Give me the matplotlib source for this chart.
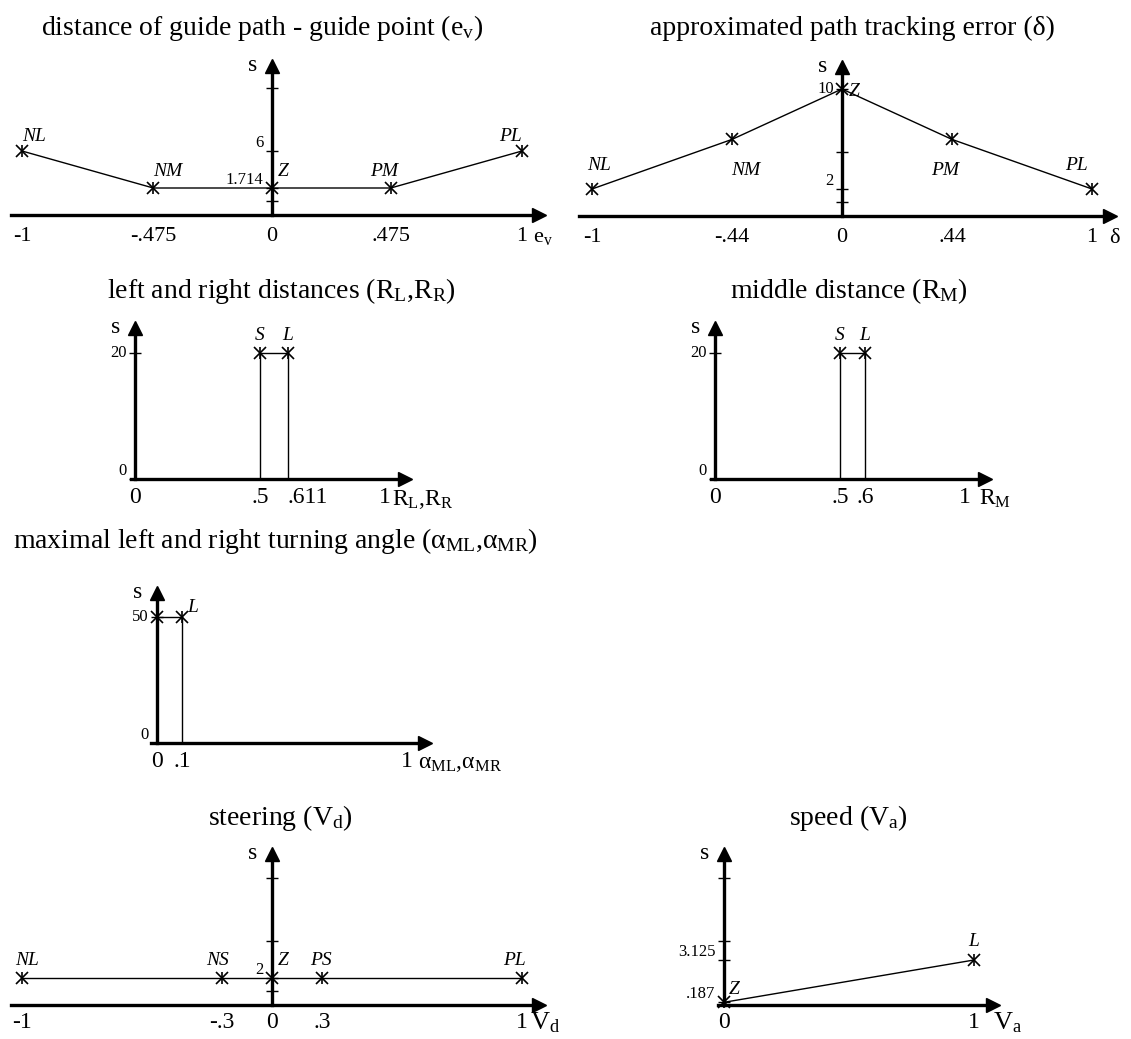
import numpy as np
import matplotlib
matplotlib.use('Agg')
import matplotlib.pyplot as plt

plt.rcParams['font.family'] = 'Liberation Serif'
plt.rcParams['mathtext.fontset'] = 'custom'
plt.rcParams['mathtext.rm'] = 'Liberation Serif'
plt.rcParams['mathtext.it'] = 'Liberation Serif:italic'

# distance of guide path - guide point
ev_x = [-1, -0.475, 0, 0.475, 1]
ev_s = [6, 1.714, 1.714, 1.714, 6]
ev_names = ['NL', 'NM', 'Z', 'PM', 'PL']
ev_ticks = [-1, -0.475, 0, 0.475, 1]
ev_ticklabels = ['-1', '-.475', '0', '.475', '1']
ev_sticks = [1, 1.714, 6, 10]
ev_sticklabels = ['', '1.714', '6', '']

# approximated path tracking error
d_x = [-1, -0.44, 0, 0.44, 1]
d_s = [2, 6, 10, 6, 2]
d_names = ['NL', 'NM', 'Z', 'PM', 'PL']
d_ticks = [-1, -0.44, 0, 0.44, 1]
d_ticklabels = ['-1', '-.44', '0', '.44', '1']
d_sticks = [1, 2, 5, 10]
d_sticklabels = ['', '2', '', '10']

# left and right distances
rlr_x = [0.5, 0.611]
rlr_s = [20, 20]
rlr_names = ['S', 'L']
rlr_ticks = [0, 0.5, 0.611, 1]
rlr_ticklabels = ['0', '.5', '.611', '1']

# middle distance
rm_x = [0.5, 0.6]
rm_s = [20, 20]
rm_names = ['S', 'L']
rm_ticks = [0, 0.5, 0.6, 1]
rm_ticklabels = ['0', '.5', '.6', '1']
r_sticks = [0, 20]
r_sticklabels = ['0', '20']

# maximal turning angle
am_x = [0, 0.1]
am_s = [50, 50]
am_names = ['', 'L']
am_ticks = [0, 0.1, 1]
am_ticklabels = ['0', '.1', '1']
am_sticks = [0, 50]
am_sticklabels = ['0', '50']

# steering
vd_x = [-1, -0.3, 0, 0.3, 1]
vd_s = [2, 2, 2, 2, 2]
vd_names = ['NL', 'NS', 'Z', 'PS', 'PL']
vd_ticks = [-1, -0.3, 0, 0.3, 1]
vd_ticklabels = ['-1', '-.3', '0', '.3', '1']
vd_sticks = [1, 2, 5, 10]
vd_sticklabels = ['', '2', '', '']

# speed
va_x = [0, 1]
va_s = [0.187, 3.125]
va_names = ['Z', 'L']
va_ticks = [0, 1]
va_ticklabels = ['0', '1']
va_sticks = [0.187, 3.125, 5, 10]
va_sticklabels = ['.187', '3.125', '', '']

W, H = 1131, 1039
fig = plt.figure(figsize=(W / 100, H / 100), dpi=100)


def knots(vals, pos):
    return (lambda v: np.interp(v, vals, pos)), (lambda p: np.interp(p, pos, vals))


def make_axes(ox, oy, left, tip_x, tip_y, yknots, xknots=None, xsize=16, xpad=8.5):
    right = tip_x - 6
    top = oy - tip_y - 6
    ax = fig.add_axes([left / W, (H - oy) / H, (right - left) / W, top / H])
    xf, xi = knots(*(xknots or ([-3, 3], [-3, 3])))
    ax.set_xscale('function', functions=(xf, xi))
    yf, yi = knots(*yknots)
    ax.set_yscale('function', functions=(yf, yi))
    ax.set_xlim(xi((left - ox) / 250), xi((right - ox) / 250))
    ax.set_ylim(0, yi(top))
    ax.patch.set_visible(False)
    for side in ['top', 'right']:
        ax.spines[side].set_visible(False)
    for side in ['left', 'bottom']:
        ax.spines[side].set_position(('data', 0))
        ax.spines[side].set_linewidth(2.4)
    ax.plot(1, 0, '>k', ms=10.5, transform=ax.get_yaxis_transform(), clip_on=False)
    ax.plot(0, 1, '^k', ms=10, transform=ax.get_xaxis_transform(), clip_on=False)
    ax.tick_params(axis='x', length=0, labelsize=xsize, pad=xpad)
    ax.tick_params(axis='y', direction='inout', length=8, width=1, labelsize=12, pad=2)
    ax.annotate('s', (0, 1), xycoords=('data', 'axes fraction'), xytext=(-15 * 0.72, -5 * 0.72),
                textcoords='offset points', ha='right', va='baseline', fontsize=17)
    return ax


def set_ticks(ax, xt, xl, yt, yl, yva):
    ax.set_xticks(xt, xl)
    ax.set_yticks(yt, yl)
    ax.minorticks_off()
    for lbl, va in zip(ax.get_yticklabels(), yva):
        lbl.set_va(va)


def axis_name(ax, text, dx, base, size=16):
    ax.annotate(text, (1, 0), xytext=(dx * 0.72, -base * 0.72), textcoords='offset points',
                ha='left', va='baseline', fontsize=size)


def points(ax, xs, ss, names, offs):
    ax.plot(xs, ss, color='k', lw=1, clip_on=False, zorder=3)
    # asterisk drawn as an x with a vertical bar
    ax.plot(xs, ss, 'x', color='k', ms=8, mew=1.2, clip_on=False, zorder=4)
    ax.plot(xs, ss, '|', color='k', ms=9, mew=1.2, clip_on=False, zorder=4)
    for x, s, n, (dx, dy, ha) in zip(xs, ss, names, offs):
        ax.annotate(n, (x, s), xytext=(dx * 0.72, dy * 0.72), textcoords='offset points',
                    ha=ha, va='baseline', fontsize=14, style='italic')


def title(text, x, y, ha='center', size=20):
    fig.text(x / W, 1 - y / H, text, ha=ha, va='center', fontsize=size)


tmpl = ([0, 1, 2, 5, 10, 30], [0, 14, 27, 64, 127, 381])

# 1
ax = make_axes(272, 215, 11, 545, 60, ([0, 1, 1.714, 6, 10, 30], [0, 14, 27, 64, 127, 381]))
set_ticks(ax, ev_ticks, ev_ticklabels, ev_sticks, ev_sticklabels, ['bottom'] * 4)
points(ax, ev_x, ev_s, ev_names,
       [(0, 10, 'left'), (0, 12, 'left'), (6, 12, 'left'), (7, 12, 'right'), (0, 10, 'right')])
axis_name(ax, 'e$_\\mathrm{v}$', 11, 27)
title('distance of guide path - guide point (e$_\\mathrm{v}$)', 262, 28)

# 2
ax = make_axes(842, 216, 579, 1116, 61, tmpl)
set_ticks(ax, d_ticks, d_ticklabels, d_sticks, d_sticklabels, ['bottom', 'bottom', 'bottom', 'center'])
points(ax, d_x, d_s, d_names,
       [(-5, 19, 'left'), (-1, -36, 'left'), (7, -7, 'left'), (7, -36, 'right'), (-4, 19, 'right')])
axis_name(ax, 'δ', 17, 27)
title('approximated path tracking error (δ)', 852, 28)

# 3
ax = make_axes(135, 479, 131, 411, 322, ([0, 40], [0, 252]), xsize=17, xpad=6)
set_ticks(ax, rlr_ticks, rlr_ticklabels, r_sticks, r_sticklabels, ['bottom', 'center'])
ax.get_xticklabels()[2].set_ha('left')
ax.vlines(rlr_x, 0, rlr_s, color='k', lw=1)
points(ax, rlr_x, rlr_s, rlr_names, [(0, 13, 'center'), (0, 13, 'center')])
axis_name(ax, 'R$_\\mathrm{L}$,R$_\\mathrm{R}$', 7, 26, 17)
title('left and right distances (R$_\\mathrm{L}$,R$_\\mathrm{R}$)', 281, 291)

# 4
ax = make_axes(715, 479, 711, 991, 322, ([0, 40], [0, 252]), xsize=17, xpad=6)
set_ticks(ax, rm_ticks, rm_ticklabels, r_sticks, r_sticklabels, ['bottom', 'center'])
ax.vlines(rm_x, 0, rm_s, color='k', lw=1)
points(ax, rm_x, rm_s, rm_names, [(0, 13, 'center'), (0, 13, 'center')])
axis_name(ax, 'R$_\\mathrm{M}$', 14, 26, 17)
title('middle distance (R$_\\mathrm{M}$)', 849, 291)

# 5
ax = make_axes(157, 743, 151, 431, 587, ([0, 100], [0, 252]), xsize=17, xpad=6)
set_ticks(ax, am_ticks, am_ticklabels, am_sticks, am_sticklabels, ['bottom', 'center'])
ax.vlines(am_x[1:], 0, am_s[1:], color='k', lw=1)
points(ax, am_x, am_s, am_names, [(0, 0, 'left'), (5, 5, 'left')])
axis_name(ax, 'α$_\\mathrm{ML}$,α$_\\mathrm{MR}$', 11, 25, 17)
title('maximal left and right turning angle (α$_\\mathrm{ML}$,α$_\\mathrm{MR}$)', 13, 541, ha='left')

# 6
ax = make_axes(272, 1005, 11, 545, 848, tmpl,
               xknots=([-3, -1, -0.3, 0.3, 1, 3], [-3, -1, -0.2, 0.2, 1, 3]), xsize=17, xpad=5)
set_ticks(ax, vd_ticks, vd_ticklabels, vd_sticks, vd_sticklabels, ['bottom'] * 4)
points(ax, vd_x, vd_s, vd_names,
       [(-7, 13, 'left'), (7, 13, 'right'), (6, 13, 'left'), (-12, 13, 'left'), (4, 13, 'right')])
axis_name(ax, 'V$_\\mathrm{d}$', 8, 24, 19)
title('steering (V$_\\mathrm{d}$)', 280, 818)

# 7
ax = make_axes(724, 1005, 718, 999, 848, ([0, 3.125, 5, 10, 30], [0, 45, 64, 127, 381]),
               xsize=17, xpad=5)
set_ticks(ax, va_ticks, va_ticklabels, va_sticks, va_sticklabels, ['bottom'] * 4)
points(ax, va_x, va_s, va_names, [(5, 8, 'left'), (0, 14, 'center')])
axis_name(ax, 'V$_\\mathrm{a}$', 19, 24, 19)
title('speed (V$_\\mathrm{a}$)', 848, 818)

fig.savefig('out.png', dpi=100)
